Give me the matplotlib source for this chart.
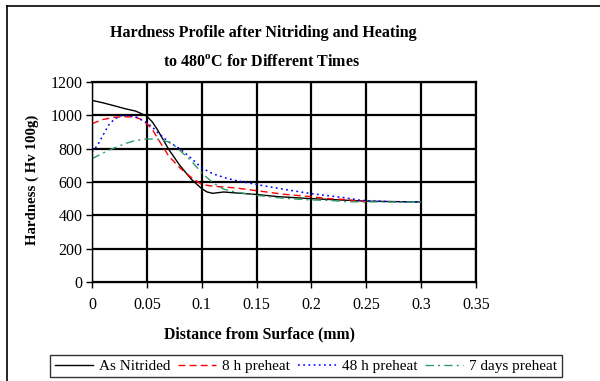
import matplotlib
matplotlib.use('Agg')
import matplotlib.pyplot as plt
from matplotlib.lines import Line2D

plt.rcParams['font.family'] = ['Liberation Serif', 'DejaVu Serif']
plt.rcParams['mathtext.fontset'] = 'custom'
plt.rcParams['mathtext.rm'] = 'Liberation Serif'
plt.rcParams['mathtext.bf'] = 'Liberation Serif:bold'

# depth (mm) and hardness (Hv 100g)
x_nitrided = [0, 0.01, 0.02, 0.03, 0.04, 0.05, 0.055, 0.06, 0.07, 0.08, 0.09,
              0.1, 0.105, 0.11, 0.12, 0.13, 0.15, 0.17, 0.2, 0.25, 0.3]
y_nitrided = [1090, 1075, 1058, 1040, 1025, 995, 960, 910, 795, 700, 620,
              560, 540, 532, 540, 535, 525, 512, 500, 485, 480]

x_8h = [0, 0.01, 0.02, 0.03, 0.04, 0.045, 0.05, 0.055, 0.06, 0.07, 0.08,
        0.09, 0.1, 0.11, 0.13, 0.15, 0.175, 0.2, 0.215, 0.23, 0.25]
y_8h = [950, 975, 988, 992, 988, 975, 950, 915, 860, 755, 685,
        630, 585, 575, 565, 548, 526, 512, 500, 495, 482]

x_48h = [0, 0.005, 0.01, 0.015, 0.02, 0.025, 0.03, 0.04, 0.05, 0.055, 0.06,
         0.07, 0.08, 0.09, 0.1, 0.11, 0.12, 0.13, 0.15, 0.175, 0.2, 0.23,
         0.245, 0.27, 0.3]
y_48h = [780, 820, 880, 940, 975, 995, 1000, 990, 955, 930, 895,
         840, 800, 745, 685, 650, 628, 610, 585, 556, 530, 506,
         490, 482, 480]

x_7d = [0, 0.015, 0.03, 0.04, 0.05, 0.06, 0.07, 0.075, 0.08, 0.09, 0.1,
        0.11, 0.12, 0.13, 0.15, 0.175, 0.2, 0.215, 0.235, 0.3]
y_7d = [740, 790, 830, 850, 858, 857, 840, 820, 790, 730, 655,
        596, 557, 541, 520, 502, 492, 490, 481, 480]

labels = ['As Nitrided', '8 h preheat', '48 h preheat', '7 days preheat']
x_ticks = [0, 0.05, 0.1, 0.15, 0.2, 0.25, 0.3, 0.35]
x_ticklabels = ['0', '0.05', '0.1', '0.15', '0.2', '0.25', '0.3', '0.35']
y_ticks = [0, 200, 400, 600, 800, 1000, 1200]

fig = plt.figure(figsize=(6, 3.81), dpi=100)
ax = fig.add_axes([92 / 600, 1 - 282 / 381, 384 / 600, 200 / 381])

ax.plot(x_nitrided, y_nitrided, color='black', lw=1.0, ls='-', label=labels[0])
ax.plot(x_8h, y_8h, color='#ff0000', lw=1.0, ls=(0, (5, 3)), label=labels[1])
ax.plot(x_48h, y_48h, color='#0000ff', lw=1.1, ls=(0, (1.2, 2.2)), label=labels[2])
ax.plot(x_7d, y_7d, color='#339966', lw=1.0, ls=(0, (6, 3, 1.5, 3)), label=labels[3])

ax.set_xlim(0, 0.35)
ax.set_ylim(0, 1200)
ax.set_xticks(x_ticks)
ax.set_xticklabels(x_ticklabels)
ax.set_yticks(y_ticks)
ax.grid(True, color='black', lw=1.6)
ax.set_axisbelow(True)
ax.tick_params(direction='out', length=4, width=1, colors='black',
               labelsize=11.5, pad=3)
ax.tick_params(axis='x', pad=7)
for side in ['left', 'bottom']:
    ax.spines[side].set_linewidth(1.0)
for side in ['top', 'right']:
    ax.spines[side].set_linewidth(1.6)

# titles and labels placed in figure pixels
fig.text(263 / 600, 1 - 33 / 381, 'Hardness Profile after Nitriding and Heating',
         ha='center', va='center', fontsize=11.5, fontweight='bold')
fig.text(262 / 600, 1 - 62 / 381, r'to 480$^{\mathbf{o}}$C for Different Times',
         ha='center', va='center', fontsize=11.5, fontweight='bold')
fig.text(259 / 600, 1 - 334 / 381, 'Distance from Surface (mm)',
         ha='center', va='center', fontsize=11.3, fontweight='bold')
fig.text(32 / 600, 1 - 180 / 381, 'Hardness ( Hv 100g)', rotation=90,
         ha='center', va='center', fontsize=10.7, fontweight='bold')

leg = fig.legend(loc='center', bbox_to_anchor=(306 / 600, 1 - 366 / 381), ncol=4,
                 fontsize=11, frameon=True, fancybox=False, handlelength=2.5,
                 handletextpad=0.4, columnspacing=0.5, borderpad=0.3)
leg.get_frame().set_edgecolor('black')
leg.get_frame().set_linewidth(1.0)

# outer chart frame (left and top edges visible)
fig.add_artist(Line2D([7 / 600, 7 / 600], [0, 1 - 6 / 381], color='black', lw=1.2,
                      transform=fig.transFigure))
fig.add_artist(Line2D([7 / 600, 1], [1 - 6 / 381, 1 - 6 / 381], color='black', lw=1.2,
                      transform=fig.transFigure))

fig.savefig('out.png', dpi=100)
